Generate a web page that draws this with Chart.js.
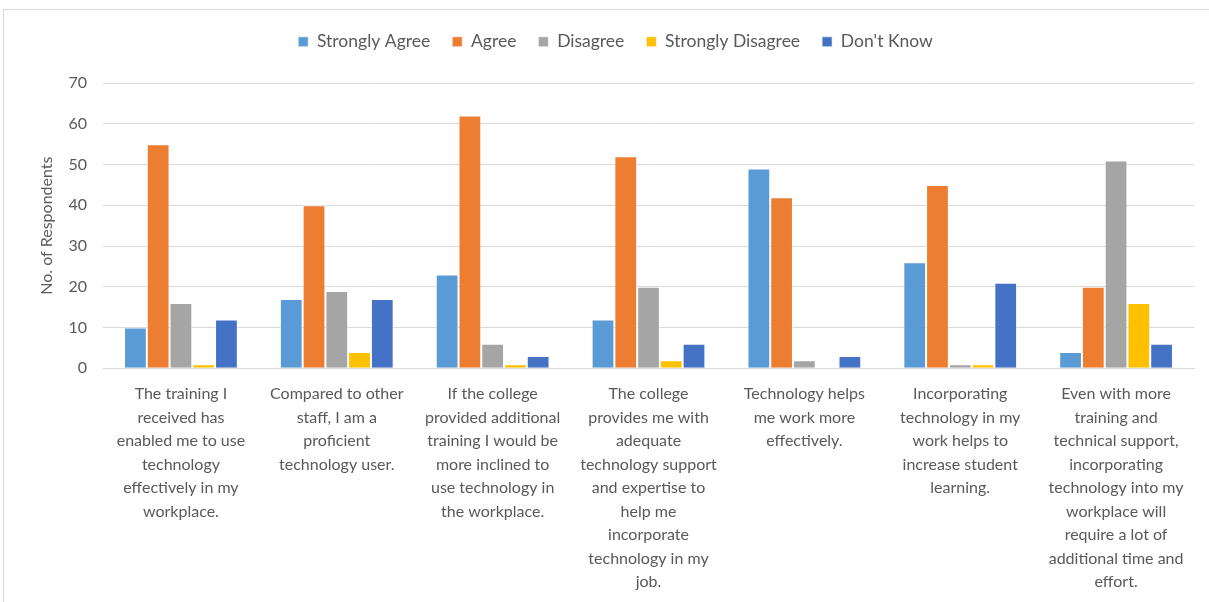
<!DOCTYPE html>
<html>
<head>
<meta charset="utf-8">
<script src="https://cdn.jsdelivr.net/npm/chart.js@4"></script>
<style>
  html, body { margin: 0; padding: 0; background: #fff; overflow: hidden; }
  #frame { position: absolute; left: 3px; top: 9px; width: 1300px; height: 700px; border: 1px solid #d9d9d9; box-sizing: border-box; }
  #wrap { position: absolute; left: 0; top: 0; width: 1209px; height: 602px; }
</style>
</head>
<body>
<div id="frame"></div>
<div id="wrap"><canvas id="c" width="1209" height="602"></canvas></div>
<script>
const categories = [
  ["The training I", "received has", "enabled me to use", "technology", "effectively in my", "workplace."],
  ["Compared to other", "staff, I am a", "proficient", "technology user."],
  ["If the college", "provided additional", "training I would be", "more inclined to", "use technology in", "the workplace."],
  ["The college", "provides me with", "adequate", "technology support", "and expertise to", "help me", "incorporate", "technology in my", "job."],
  ["Technology helps", "me work more", "effectively."],
  ["Incorporating", "technology in my", "work helps to", "increase student", "learning."],
  ["Even with more", "training and", "technical support,", "incorporating", "technology into my", "workplace will", "require a lot of", "additional time and", "effort."]
];
const stronglyAgree    = [10, 17, 23, 12, 49, 26, 4];
const agree            = [55, 40, 62, 52, 42, 45, 20];
const disagree         = [16, 19, 6, 20, 2, 1, 51];
const stronglyDisagree = [1, 4, 1, 2, 0, 1, 16];
const dontKnow         = [12, 17, 3, 6, 3, 21, 6];
const yTicks = [0, 10, 20, 30, 40, 50, 60, 70];

const FONT = "Lato, 'Liberation Sans', sans-serif";
const TXT = "#595959";
const LEFT_PAD = 37;
const TOP_PAD = 11;

function ds(label, data, color) {
  return { label, data, backgroundColor: color, borderColor: "rgba(255,255,255,0.6)", borderWidth: 1, categoryPercentage: 0.73, barPercentage: 1.0 };
}

const legendGap = {
  id: "legendGap",
  beforeInit(chart) {
    const orig = chart.legend.fit;
    chart.legend.fit = function () { orig.call(this); this.height = 83 - TOP_PAD; };
  }
};

new Chart(document.getElementById("c"), {
  type: "bar",
  plugins: [legendGap],
  data: {
    labels: categories,
    datasets: [
      ds("Strongly Agree", stronglyAgree, "#5b9bd5"),
      ds("Agree", agree, "#ed7d31"),
      ds("Disagree", disagree, "#a5a5a5"),
      ds("Strongly Disagree", stronglyDisagree, "#ffc000"),
      ds("Don't Know", dontKnow, "#4472c4")
    ]
  },
  options: {
    responsive: false,
    animation: false,
    layout: { padding: { left: LEFT_PAD, right: 15, top: TOP_PAD, bottom: 2 } },
    plugins: {
      tooltip: { enabled: false },
      legend: {
        position: "top",
        labels: { font: { family: FONT, size: 17.5 }, color: TXT, boxWidth: 10, boxHeight: 10, padding: 22 }
      }
    },
    scales: {
      x: {
        grid: { display: false },
        border: { color: "#d9d9d9" },
        ticks: { font: { family: FONT, size: 16, lineHeight: 1.47 }, color: TXT, maxRotation: 0, autoSkip: false, padding: 6 }
      },
      y: {
        min: 0, max: 70,
        afterBuildTicks: (axis) => { axis.ticks = yTicks.map(v => ({ value: v })); },
        afterFit: (axis) => { axis.width = 103 - LEFT_PAD; },
        grid: { color: "#d9d9d9", drawTicks: false },
        border: { display: false },
        ticks: { font: { family: FONT, size: 16 }, color: TXT, padding: 16 },
        title: { display: true, text: "No. of Respondents", font: { family: FONT, size: 16 }, color: TXT, padding: { top: 0, bottom: 0 } }
      }
    }
  }
});
</script>
</body>
</html>
